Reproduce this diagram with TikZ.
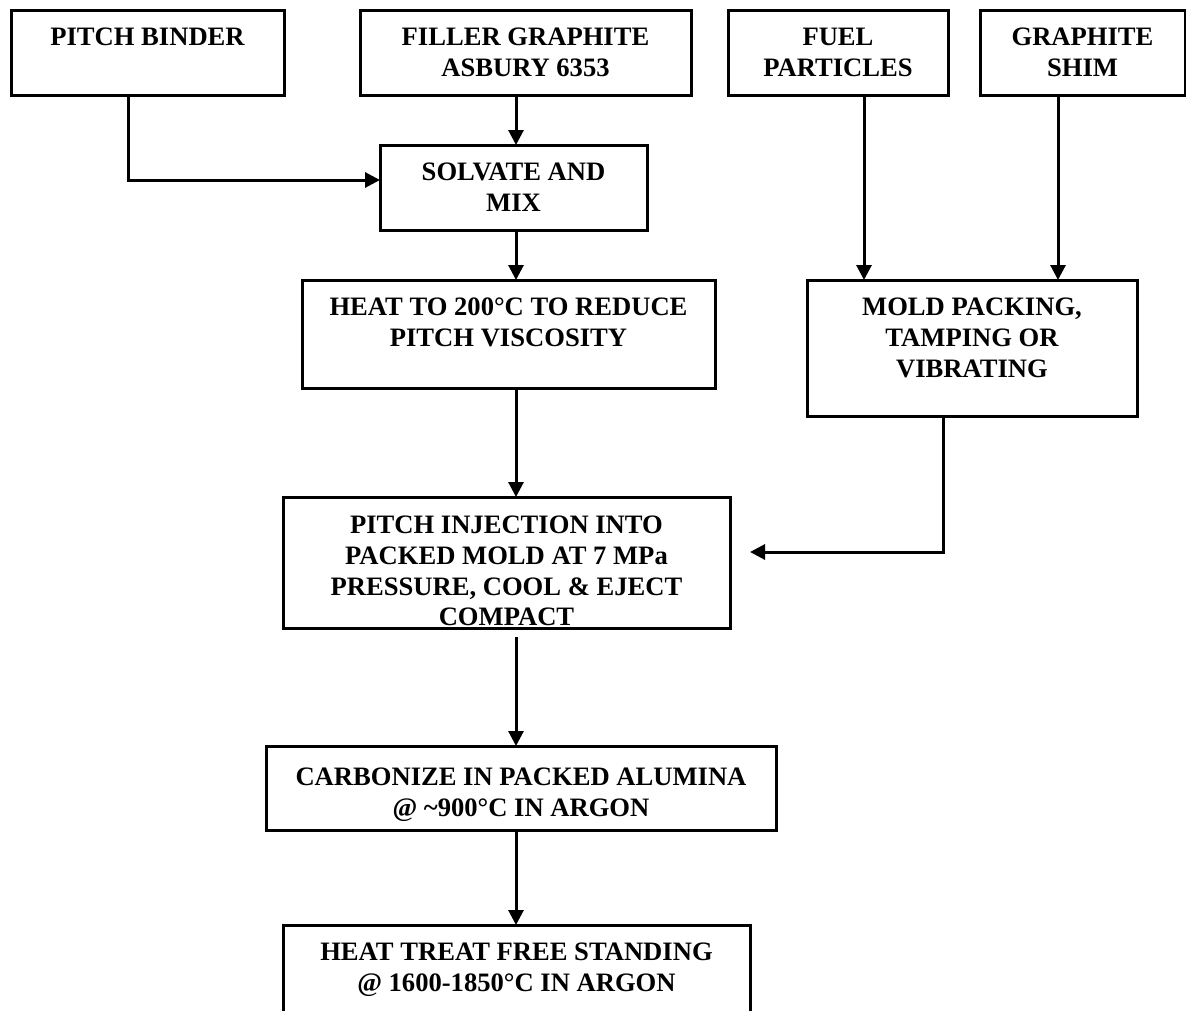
\documentclass[tikz,border=0pt]{standalone}
\usepackage{fontspec}
\setmainfont{Liberation Serif}
\usetikzlibrary{arrows.meta,positioning}

\tikzset{
  stage/.style={draw=black, line width=3pt, inner sep=0pt, outer sep=0pt},
  caption/.style={inner sep=0pt, align=center, font=\bfseries\fontsize{26.6}{30.6}\selectfont},
  flow/.style={line width=3pt, -{Triangle[length=15pt,width=15pt]}},
}
\newcommand{\capstrut}{\rule{0pt}{19pt}}

\begin{document}
\begin{tikzpicture}[x=1pt,y=-1pt]
  \useasboundingbox (0,0) rectangle (1186,1010);

  % raw materials
  \node[stage, minimum width=273pt, minimum height=85pt] (binder) at (147.5,52.5) {};
  \node[stage, minimum width=331pt, minimum height=85pt] (filler) at (525.5,52.5) {};
  \node[stage, minimum width=220pt, minimum height=85pt] (fuel) at (838,52.5) {};
  \node[stage, minimum width=205pt, minimum height=85pt] (shim) at (1082.5,52.5) {};

  % process steps
  \node[stage, minimum width=267pt, minimum height=85pt] (solvate) at (513.5,187.5) {};
  \node[stage, minimum width=413pt, minimum height=108pt] (heat) at (508.5,334) {};
  \node[stage, minimum width=330pt, minimum height=136pt] (mold) at (972,348) {};
  \node[stage, minimum width=447pt, minimum height=131pt] (inject) at (506.5,562.5) {};
  \node[stage, minimum width=510pt, minimum height=84pt] (carbon) at (521,788) {};
  \node[stage, minimum width=467pt, minimum height=110pt] (treat) at (516.5,980) {};

  % texts
  \node[caption, below=16.6pt of binder.north] (binderlbl) {\capstrut PITCH BINDER};
  \node[caption, below=16.6pt of filler.north] (fillerlbl) {\capstrut FILLER GRAPHITE\\ASBURY 6353};
  \node[caption, below=16.6pt of fuel.north] (fuellbl) {\capstrut FUEL\\PARTICLES};
  \node[caption, below=16.6pt of shim.north] (shimlbl) {\capstrut GRAPHITE\\SHIM};
  \node[caption, below=16.6pt of solvate.north] (solvatelbl) {\capstrut SOLVATE AND\\MIX};
  \node[caption, below=16.6pt of heat.north] (heatlbl) {\capstrut HEAT TO 200°C TO REDUCE\\PITCH VISCOSITY};
  \node[caption, below=16.6pt of mold.north] (moldlbl) {\capstrut MOLD PACKING,\\TAMPING OR\\VIBRATING};
  \node[caption, below=17.6pt of inject.north] (injectlbl) {\capstrut PITCH INJECTION INTO\\PACKED MOLD AT 7 MPa\\PRESSURE, COOL \& EJECT\\COMPACT};
  \node[caption, below=20.6pt of carbon.north] (carbonlbl) {\capstrut CARBONIZE IN PACKED ALUMINA\\@ \textasciitilde900°C IN ARGON};
  \node[caption, below=16.6pt of treat.north] (treatlbl) {\capstrut HEAT TREAT FREE STANDING\\@ 1600-1850°C IN ARGON};

  % helper points
  \coordinate (spine) at (516,0);
  \coordinate (binderbend) at (128,180);
  \coordinate (fuelline) at (864,0);
  \coordinate (shimline) at (1058,0);
  \coordinate (moldbend) at (943,552);
  \coordinate (injectin) at (750,552);
  \coordinate (injectout) at (516,637);

  % connectors
  \draw[flow] (binder.south -| binderbend) |- (solvate.west |- binderbend);
  \draw[flow] (filler.south -| spine) -- (solvate.north -| spine);
  \draw[flow] (solvate.south -| spine) -- (heat.north -| spine);
  \draw[flow] (heat.south -| spine) -- (inject.north -| spine);
  \draw[flow] (fuel.south -| fuelline) -- (mold.north -| fuelline);
  \draw[flow] (shim.south -| shimline) -- (mold.north -| shimline);
  \draw[flow] (mold.south -| moldbend) |- (injectin);
  \draw[flow] (injectout) -- (carbon.north -| spine);
  \draw[flow] (carbon.south -| spine) -- (treat.north -| spine);
\end{tikzpicture}
\end{document}
